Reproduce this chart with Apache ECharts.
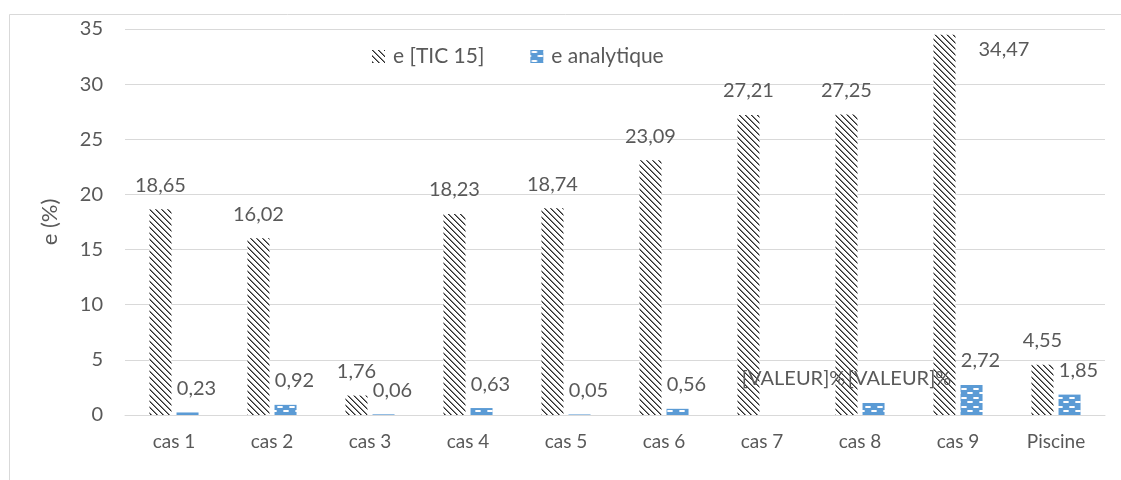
<!DOCTYPE html>
<html>
<head>
<meta charset="utf-8">
<script src="https://cdn.jsdelivr.net/npm/echarts@6/dist/echarts.min.js"></script>
<style>
html,body{margin:0;padding:0;background:#fff;}
#chart{width:1121px;height:480px;}
</style>
</head>
<body>
<div id="chart"></div>
<script>
const categories = ['cas 1','cas 2','cas 3','cas 4','cas 5','cas 6','cas 7','cas 8','cas 9','Piscine'];
const eTIC15 = [18.65, 16.02, 1.76, 18.23, 18.74, 23.09, 27.21, 27.25, 34.47, 4.55];
const eAnalytique = [0.23, 0.92, 0.06, 0.63, 0.05, 0.56, 0, 1.09, 2.72, 1.85];
const placeholderLabelIdx = [6, 7];
const yTicks = { min: 0, max: 35, interval: 5 };

function hatchPattern() {
  const s = 6;
  const c = document.createElement('canvas');
  c.width = s; c.height = s;
  const ctx = c.getContext('2d');
  const img = ctx.createImageData(s, s);
  for (let y = 0; y < s; y++) {
    for (let x = 0; x < s; x++) {
      const d = ((x - y) % s + s) % s;
      let v = 255;
      if (d === 0) v = 45;
      else if (d === 1) v = 130;
      const i = (y * s + x) * 4;
      img.data[i] = v; img.data[i+1] = v; img.data[i+2] = v; img.data[i+3] = 255;
    }
  }
  ctx.putImageData(img, 0, 0);
  return c;
}
function dotPattern() {
  const w = 12, h = 9;
  const c = document.createElement('canvas');
  c.width = w; c.height = h;
  const ctx = c.getContext('2d');
  ctx.fillStyle = '#5B9BD5';
  ctx.fillRect(0, 0, w, h);
  ctx.fillStyle = '#ffffff';
  ctx.fillRect(2, 1, 4, 2);
  ctx.fillRect(8, 5, 4, 2);
  ctx.fillStyle = '#c8dcf0';
  ctx.fillRect(1, 1, 1, 2);
  ctx.fillRect(6, 1, 1, 2);
  ctx.fillRect(7, 5, 1, 2);
  ctx.fillRect(0, 5, 1, 2);
  return c;
}

const fmt = v => v.toFixed(2).replace('.', ',');
const txt = '#595959';
const font = 'Lato';

const ticData = eTIC15.map((v, i) => {
  if (i === 8) {
    return { value: v, label: { position: [45, 15], align: 'left', verticalAlign: 'middle' } };
  }
  return v;
});
const anaData = eAnalytique.map((v, i) => {
  if (i === 6) return { value: v, label: { offset: [18, -12] } };
  if (i === 7) return { value: v, label: { offset: [26, 0] } };
  return v;
});

const chart = echarts.init(document.getElementById('chart'));
chart.setOption({
  backgroundColor: '#ffffff',
  animation: false,
  textStyle: { fontFamily: font, color: txt },
  graphic: [{
    type: 'rect', shape: { x: 9.5, y: 14.5, width: 1140, height: 500 },
    style: { fill: 'none', stroke: '#d9d9d9', lineWidth: 1 }, silent: true
  }],
  legend: {
    top: 46, left: 372, padding: 0,
    itemWidth: 13, itemHeight: 13, itemGap: 46,
    icon: 'rect',
    textStyle: { fontFamily: font, fontSize: 21, color: txt, padding: [0, 0, 0, 3] },
    data: ['e [TIC 15]', 'e analytique']
  },
  grid: { left: 125, right: 16, top: 29, bottom: 65 },
  xAxis: {
    type: 'category', data: categories,
    axisLine: { lineStyle: { color: '#d9d9d9', width: 1 } },
    axisTick: { show: false },
    axisLabel: { fontFamily: font, fontSize: 19, color: txt, margin: 17 }
  },
  yAxis: {
    type: 'value', min: yTicks.min, max: yTicks.max, interval: yTicks.interval,
    name: 'e (%)', nameLocation: 'middle', nameGap: 64, nameRotate: 90,
    nameTextStyle: { fontFamily: font, fontSize: 22, color: txt },
    axisLine: { show: false }, axisTick: { show: false },
    axisLabel: { fontFamily: font, fontSize: 20, color: txt, margin: 22 },
    splitLine: { lineStyle: { color: '#d9d9d9', width: 1 } }
  },
  series: [
    {
      name: 'e [TIC 15]', type: 'bar', data: ticData,
      barWidth: 22, barGap: '23%',
      itemStyle: { color: { image: hatchPattern(), repeat: 'repeat' } },
      label: { show: true, position: 'top', distance: 14, fontFamily: font, fontSize: 20, color: txt,
        formatter: p => fmt(p.value) }
    },
    {
      name: 'e analytique', type: 'bar', data: anaData,
      barWidth: 22,
      itemStyle: { color: { image: dotPattern(), repeat: 'repeat' } },
      label: { show: true, position: 'top', distance: 14, offset: [9, 0], fontFamily: font, fontSize: 20, color: txt,
        formatter: p => placeholderLabelIdx.includes(p.dataIndex) ? '[VALEUR]%' : fmt(p.value) }
    }
  ]
});
</script>
</body>
</html>
